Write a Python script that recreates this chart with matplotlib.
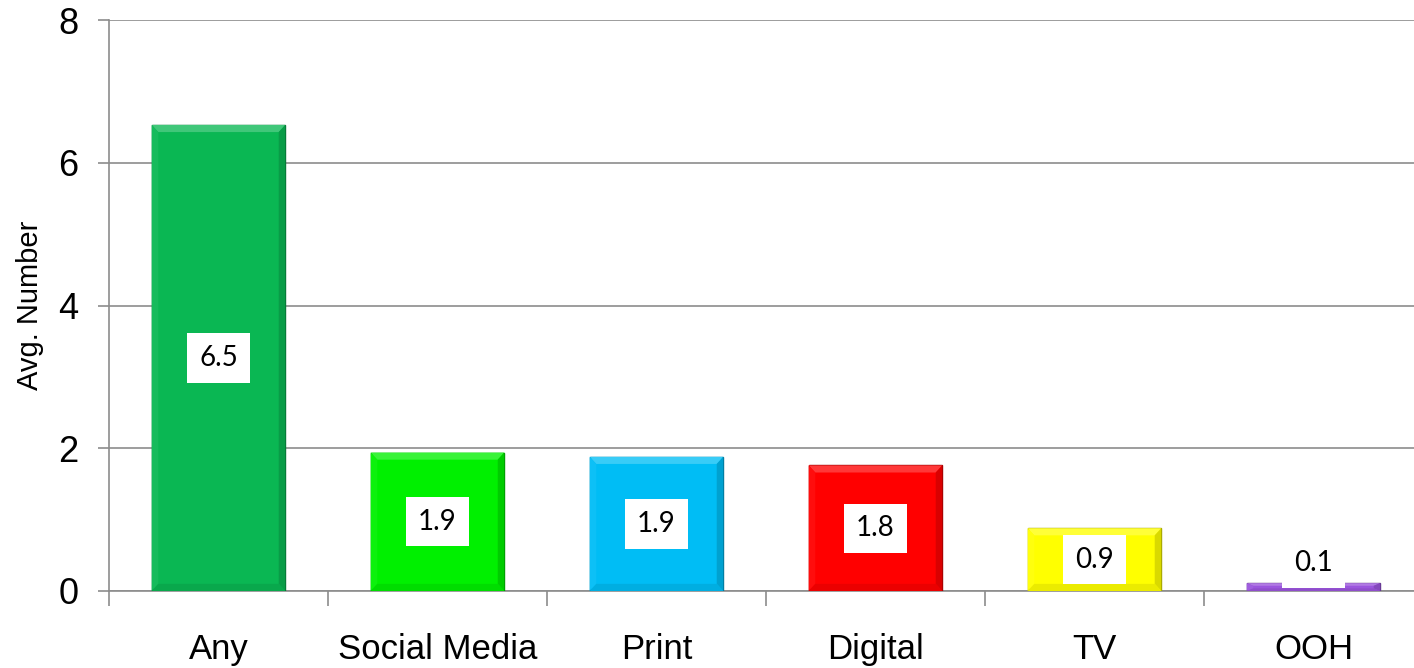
import matplotlib
matplotlib.use('Agg')
import matplotlib.pyplot as plt
import matplotlib.colors as mcolors
import numpy as np

categories = ['Any', 'Social Media', 'Print', 'Digital', 'TV', 'OOH']
avg_number = [6.53, 1.94, 1.88, 1.76, 0.88, 0.11]
bar_colors = ['#0ab753', '#00f000', '#00bdf5', '#ff0000', '#ffff00', '#9b55dd']
y_ticks = [0, 2, 4, 6, 8]

GRID_GRAY = '#8c8c8c'
BAR_WIDTH = 0.61


def _shade(color, amount):
    # amount > 0 lightens toward white, amount < 0 darkens toward black
    rgb = np.array(mcolors.to_rgb(color))
    if amount >= 0:
        return tuple(rgb + (1 - rgb) * amount)
    return tuple(rgb * (1 + amount))


def _draw_bevel(ax, bar, color, bx=0.03, by=0.10):
    x0, y0 = bar.get_x(), bar.get_y()
    x1, y1 = x0 + bar.get_width(), y0 + bar.get_height()
    by = min(by, bar.get_height() / 3)
    # top, left, right, bottom facets of a flat bevel
    facets = [
        ([x0, x1, x1 - bx, x0 + bx], [y1, y1, y1 - by, y1 - by], _shade(color, 0.22)),
        ([x0, x0 + bx, x0 + bx, x0], [y0, y0 + by, y1 - by, y1], _shade(color, 0.05)),
        ([x1, x1 - bx, x1 - bx, x1], [y0, y0 + by, y1 - by, y1], _shade(color, -0.15)),
        ([x0, x1, x1 - bx, x0 + bx], [y0, y0, y0 + by, y0 + by], _shade(color, -0.08)),
    ]
    for xs, ys, c in facets:
        ax.fill(xs, ys, color=c, lw=0, zorder=3)


fig = plt.figure(figsize=(14.14, 6.68), dpi=100)
ax = fig.add_axes([109 / 1414, 77 / 668, 1314 / 1414, 571 / 668])

x = np.arange(len(categories))
bars = ax.bar(x, avg_number, width=BAR_WIDTH, color=bar_colors, zorder=2,
              edgecolor=[_shade(c, -0.4) for c in bar_colors], linewidth=1.0)
for bar, color in zip(bars, bar_colors):
    _draw_bevel(ax, bar, color)

# value boxes sit mid-bar, but never lower than just above the axis
for xi, val in zip(x, avg_number):
    ax.text(xi, max(val / 2, 0.39), f'{val:.1f}', ha='center', va='center',
            fontsize=20, family=['Lato', 'DejaVu Sans'], color='black', zorder=5,
            bbox=dict(boxstyle='square,pad=0.42', facecolor='white', edgecolor='none'))

ax.set_xlim(-0.5, len(categories) - 0.5)
ax.set_ylim(0, 8)
ax.set_yticks(y_ticks)
ax.set_yticklabels([str(t) for t in y_ticks], family='Liberation Sans', fontsize=26)
ax.set_xticks(x)
ax.set_xticklabels(categories, family='Liberation Sans', fontsize=25)
ax.set_xticks(np.arange(len(categories) + 1) - 0.5, minor=True)

ax.tick_params(axis='x', which='major', length=0, pad=30)
ax.tick_params(axis='x', which='minor', length=11, width=1.2, color=GRID_GRAY)
ax.tick_params(axis='y', length=8, width=1.2, color=GRID_GRAY, pad=14)

ax.yaxis.grid(True, color=GRID_GRAY, linewidth=1.2, zorder=0)
ax.set_axisbelow(True)
for side in ('top', 'right'):
    ax.spines[side].set_visible(False)
for side in ('left', 'bottom'):
    ax.spines[side].set_color(GRID_GRAY)
    ax.spines[side].set_linewidth(1.2)
ax.spines['bottom'].set_zorder(1)

ax.set_ylabel('Avg. Number', family='Liberation Sans', fontsize=21, labelpad=10)

fig.savefig('out.png', dpi=100)
